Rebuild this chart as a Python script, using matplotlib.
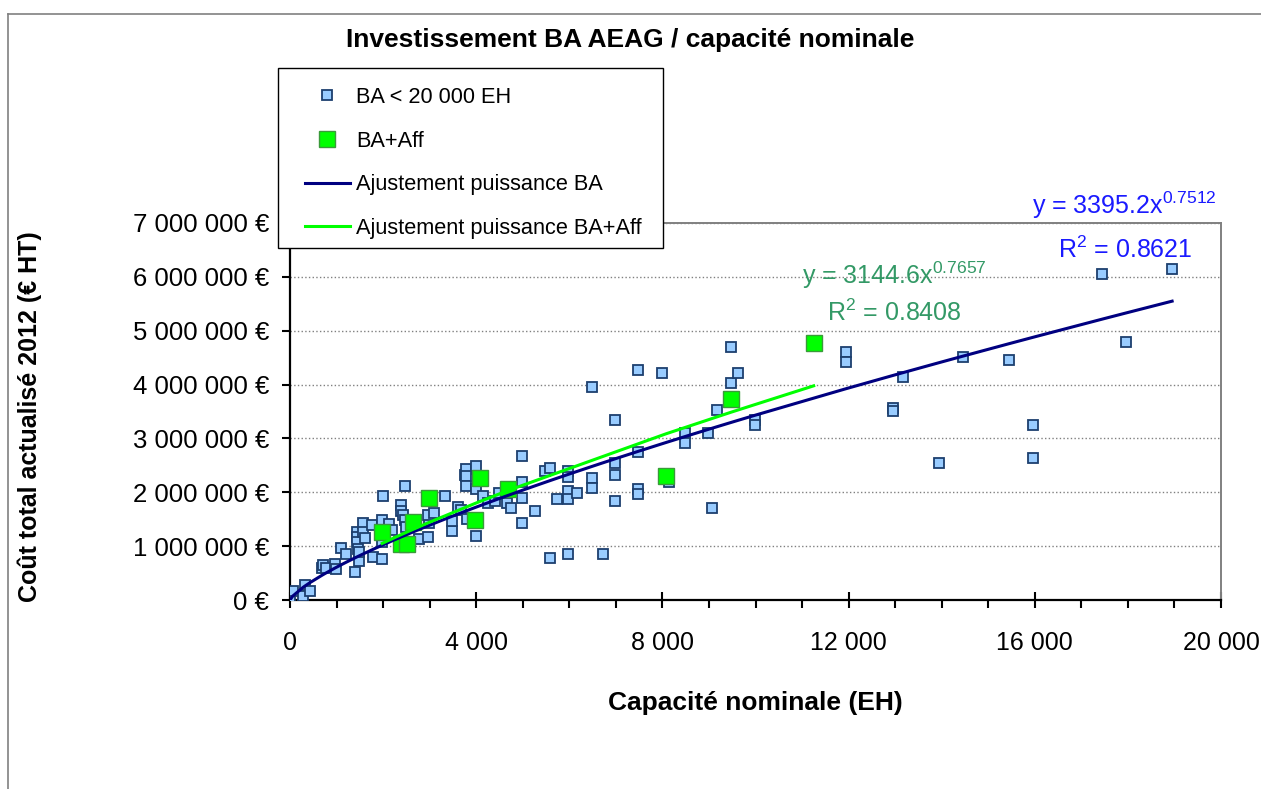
#!/usr/bin/env python3
import numpy as np
import matplotlib
matplotlib.use('Agg')
import matplotlib.pyplot as plt
from matplotlib.lines import Line2D
from matplotlib.patches import Rectangle

# Data (x: capacite EH, y: cout en M euros)
ba_x = [0, 60, 280, 320, 430, 690, 710, 770, 970, 990, 1100, 1200, 1400, 1480,
        1440, 1440, 1440, 1460, 1480, 1570, 1570, 1610, 1760, 1780, 1980, 1930,
        1980, 1980, 2000, 2130, 2190, 2470, 2380, 2380, 2430, 2470, 2490, 2770,
        2960, 2990, 2960, 3090, 3330, 3480, 3480, 3610, 3670, 3760, 3780, 3780,
        3780, 3800, 4000, 4000, 4000, 4150, 4250, 4400, 4490, 4660, 4750, 4980,
        4980, 4980, 4980, 5260, 5480, 5580, 5730, 5580, 5970, 5970, 5970, 5970,
        6160, 5970, 6490, 6490, 6490, 6720, 6980, 6980, 6980, 6980, 7470, 7470,
        7470, 7470, 7990, 8140, 8480, 8480, 8980, 9060, 9170, 9470, 9470, 9620,
        9990, 9990, 11940, 11940, 12950, 12950, 13170, 13940, 14460, 15440,
        15960, 15960, 17440, 17960, 18950]
ba_y = [0.06, 0.17, 0.07, 0.28, 0.17, 0.59, 0.65, 0.59, 0.67, 0.58, 0.97, 0.85,
        0.52, 0.72, 1.26, 1.17, 1.08, 0.95, 0.89, 1.43, 1.26, 1.15, 1.39, 0.80,
        0.76, 1.30, 1.48, 1.08, 1.93, 1.41, 1.30, 2.12, 1.76, 1.65, 1.58, 1.49,
        1.36, 1.13, 1.17, 1.43, 1.58, 1.62, 1.93, 1.28, 1.47, 1.73, 1.67, 2.32,
        2.43, 2.30, 2.12, 1.50, 2.49, 2.06, 1.19, 1.93, 1.80, 1.84, 1.99, 1.80,
        1.71, 2.67, 2.19, 1.89, 1.43, 1.65, 2.40, 2.45, 1.87, 0.78, 2.40, 2.28,
        2.02, 1.87, 1.99, 0.85, 3.95, 2.26, 2.08, 0.85, 3.34, 2.54, 2.32, 1.84,
        4.27, 2.75, 2.06, 1.97, 4.21, 2.19, 3.10, 2.91, 3.10, 1.71, 3.53, 4.70,
        4.03, 4.21, 3.34, 3.25, 4.60, 4.42, 3.57, 3.51, 4.14, 2.54, 4.51, 4.46,
        3.25, 2.64, 6.05, 4.79, 6.15]

aff_x = [1980, 2380, 2510, 2650, 2990, 3970, 4080, 4680, 8080, 9470, 11250]
aff_y = [1.26, 1.04, 1.04, 1.45, 1.89, 1.48, 2.26, 2.06, 2.30, 3.73, 4.77]

# Excel trendline coefficients (shown on chart)
ba_a, ba_b, ba_r2 = 3395.2, 0.7512, 0.8621
aff_a, aff_b, aff_r2 = 3144.6, 0.7657, 0.8408

plt.rcParams['font.family'] = ['Liberation Sans', 'DejaVu Sans']
plt.rcParams['mathtext.fontset'] = 'custom'
plt.rcParams['mathtext.rm'] = 'Liberation Sans'
font_size = 18

W, H = 1261, 789
fig = plt.figure(figsize=(W / 100, H / 100), dpi=100)
ax = fig.add_axes([290 / W, 1 - 600 / H, 931 / W, 377 / H])

# Scatter series
ax.plot(ba_x, np.array(ba_y) * 1e6, 's', ms=6.5, mfc='#99ccff', mec='#1c3f6e',
        mew=1.3, ls='none', label='BA < 20 000 EH', zorder=3)
ax.plot(aff_x, np.array(aff_y) * 1e6, 's', ms=11, mfc='#00ff00', mec='#3a9a3a',
        mew=1.0, ls='none', label='BA+Aff', zorder=3)

# Trendlines, evaluated at the sorted x values like Excel does
xs = np.sort(np.array(ba_x, dtype=float))
ax.plot(xs, ba_a * xs ** ba_b, color='#000080', lw=2.2, label='Ajustement puissance BA', zorder=4)
xa = np.sort(np.array(aff_x, dtype=float))
ax.plot(xa, aff_a * xa ** aff_b, color='#00ff00', lw=2.2, label='Ajustement puissance BA+Aff', zorder=4)

ax.set_xlim(0, 20000)
ax.set_ylim(0, 7e6)
ax.set_xticks(np.arange(0, 20001, 4000))
ax.set_xticks(np.arange(0, 20001, 1000), minor=True)
ax.set_yticks(np.arange(0, 7e6 + 1, 1e6))
ax.set_xticklabels(['{:,.0f}'.format(v).replace(',', ' ') for v in np.arange(0, 20001, 4000)])
ax.set_yticklabels(['{:,.0f} €'.format(v).replace(',', ' ') for v in np.arange(0, 7e6 + 1, 1e6)])
ax.tick_params(axis='x', which='major', direction='inout', length=12, width=1.5,
               labelsize=font_size, pad=16)
ax.tick_params(axis='x', which='minor', direction='out', length=5.5, width=1.5)
ax.tick_params(axis='y', which='major', direction='out', length=6, width=1.5,
               labelsize=18.5, pad=9)

for s in ['left', 'bottom']:
    ax.spines[s].set_color('black')
    ax.spines[s].set_linewidth(1.6)
for s in ['top', 'right']:
    ax.spines[s].set_color('#808080')
    ax.spines[s].set_linewidth(1.4)
ax.yaxis.grid(True, linestyle=':', color='#808080', lw=1.0)
ax.set_axisbelow(True)

# Texts
fig.text(0.5, 1 - 40 / H, 'Investissement BA AEAG / capacité nominale',
         ha='center', va='center', fontsize=19, fontweight='bold')
fig.text(755 / W, 1 - 703 / H, 'Capacité nominale (EH)', ha='center', va='center',
         fontsize=19, fontweight='bold')
fig.text(30 / W, 1 - 417 / H, 'Coût total actualisé 2012 (€ HT)', ha='center', va='center',
         rotation=90, fontsize=font_size, fontweight='bold')

# Trendline equations
blue_txt = '#1a1aff'
green_txt = '#339966'
ax.text(15940, 7.33e6, 'y = %.1fx$^{\\mathregular{%.4f}}$' % (ba_a, ba_b), color=blue_txt,
        fontsize=font_size, va='center', ha='left', clip_on=False)
ax.text(16500, 6.5e6, 'R$^{\\mathregular{2}}$ = %.4f' % ba_r2, color=blue_txt,
        fontsize=font_size, va='center', ha='left', clip_on=False)
ax.text(11000, 6.03e6, 'y = %.1fx$^{\\mathregular{%.4f}}$' % (aff_a, aff_b), color=green_txt,
        fontsize=font_size, va='center', ha='left')
ax.text(11535, 5.33e6, 'R$^{\\mathregular{2}}$ = %.4f' % aff_r2, color=green_txt,
        fontsize=font_size, va='center', ha='left')

# Legend (frame drawn separately to get Excel's padding)
fig.add_artist(Rectangle((278 / W, 1 - 248 / H), 385 / W, 180 / H, transform=fig.transFigure,
                         facecolor='white', edgecolor='black', lw=1.0, zorder=5))
leg = fig.legend(loc='upper left', bbox_to_anchor=(305 / W, 1 - 87 / H), borderaxespad=0,
                 fontsize=15.7, frameon=False, handlelength=2.06, handletextpad=0.28,
                 labelspacing=1.04, borderpad=0)
leg.set_zorder(6)

# Chart area border (grey)
fig.add_artist(Line2D([8 / W, 8 / W], [0, 1 - 14 / H], color='#808080', lw=1.2))
fig.add_artist(Line2D([8 / W, 1], [1 - 14 / H, 1 - 14 / H], color='#808080', lw=1.2))

fig.savefig('out.png', dpi=100)
plt.close(fig)
